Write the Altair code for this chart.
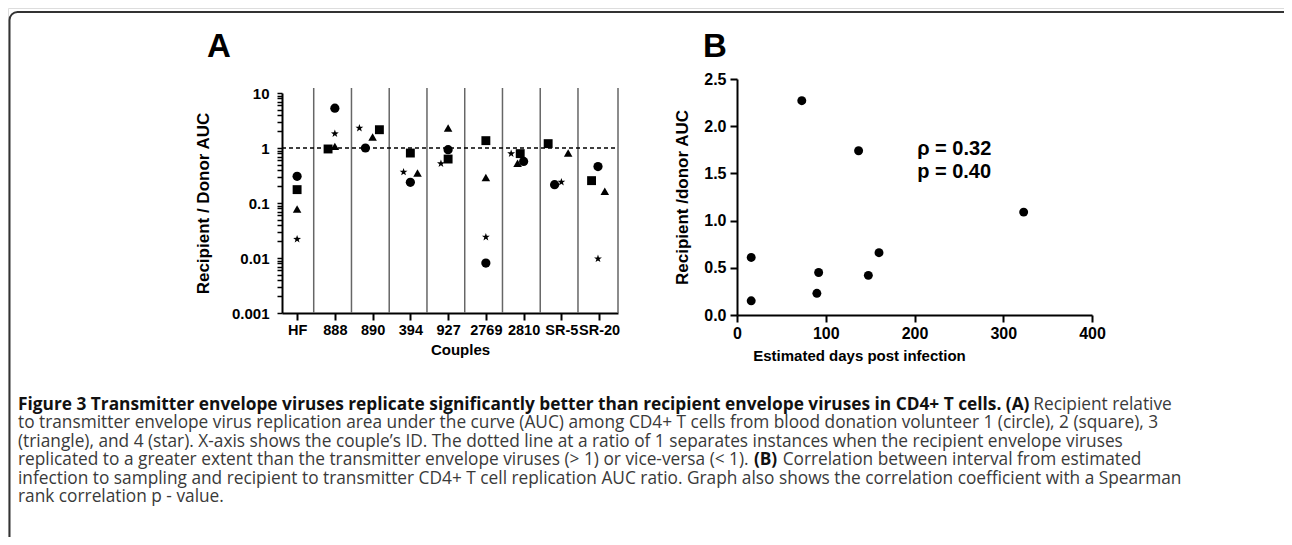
import altair as alt
import pandas as pd

# ---------------- Panel A data ----------------
couples = ["HF", "888", "890", "394", "927", "2769", "2810", "SR-5", "SR-20"]
volunteers = ["1 (circle)", "2 (square)", "3 (triangle)", "4 (star)"]

auc_circle = [0.305, 5.3, 1.0, 0.238, 0.93, 0.0081, 0.57, 0.215, 0.46]
auc_square = [0.175, 0.96, 2.15, 0.81, 0.63, 1.36, 0.79, 1.2, 0.255]
auc_triangle = [0.078, 1.07, 1.58, 0.35, 2.31, 0.29, 0.53, 0.81, 0.163]
auc_star = [0.022, 1.82, 2.3, 0.366, 0.52, 0.024, 0.79, 0.24, 0.0097]

# horizontal spread of the symbols inside a couple (category units)
jit_circle = [0, 0, -0.19, 0, 0, 0, 0, -0.18, -0.03]
jit_square = [0, -0.18, 0.18, 0, 0, 0, -0.09, -0.35, -0.2]
jit_triangle = [0, 0, 0, 0.19, 0, 0, -0.16, 0.18, 0.15]
jit_star = [0, 0, -0.35, -0.18, -0.19, 0, -0.33, 0, -0.03]

# ---------------- Panel B data ----------------
days = [16, 16, 73, 92, 90, 137, 148, 160, 323]
ratio_b = [0.61, 0.15, 2.27, 0.45, 0.23, 1.74, 0.42, 0.66, 1.09]

rho_text = "\u03c1 = 0.32"
p_text = "p = 0.40"

# ---------------- caption ----------------
cap1_bold = ("Figure 3 Transmitter envelope viruses replicate significantly better than "
             "recipient envelope viruses in CD4+ T cells. (A)")
cap1_reg = "Recipient relative"
cap2 = "to transmitter envelope virus replication area under the curve (AUC) among CD4+ T cells from blood donation volunteer 1 (circle), 2 (square), 3"
cap3 = "(triangle), and 4 (star). X-axis shows the couple\u2019s ID. The dotted line at a ratio of 1 separates instances when the recipient envelope viruses"
cap4_reg_a = "replicated to a greater extent than the transmitter envelope viruses (> 1) or vice-versa (< 1)."
cap4_bold = "(B)"
cap4_reg_b = "Correlation between interval from estimated"
cap5 = "infection to sampling and recipient to transmitter CD4+ T cell replication AUC ratio. Graph also shows the correlation coefficient with a Spearman"
cap6 = "rank correlation p - value."

# approximate advance widths (per 1000 em) of Open Sans, used only to place caption pieces
W_REG = dict(zip(" ()+,-./<>=\u2019:", [260, 296, 296, 572, 245, 322, 266, 367, 572, 572, 572, 175, 266]))
W_REG.update({d: 572 for d in "0123456789"})
W_REG.update(dict(zip("ABCDEFGHIJKLMNOPQRSTUVWXYZ",
                      [633, 648, 631, 729, 556, 516, 728, 738, 279, 267, 614, 519, 903, 754, 779,
                       602, 779, 618, 549, 553, 728, 595, 926, 577, 560, 571])))
W_REG.update(dict(zip("abcdefghijklmnopqrstuvwxyz",
                      [556, 613, 476, 613, 561, 339, 548, 614, 253, 253, 525, 253, 930, 614, 604,
                       613, 613, 408, 477, 353, 614, 501, 778, 524, 502, 477])))
W_BOLD = {k: v * 1.082 for k, v in W_REG.items()}
W_BOLD.update({" ": 260, "(": 350, ")": 350, ".": 295})


def text_w(s, size, bold=False):
    tab = W_BOLD if bold else W_REG
    return sum(tab.get(ch, 560) for ch in s) * size / 1000.0


# ---------------- tables ----------------
rows = []
for v, vals, jits in zip(volunteers,
                         [auc_circle, auc_square, auc_triangle, auc_star],
                         [jit_circle, jit_square, jit_triangle, jit_star]):
    for i, (c, val, j) in enumerate(zip(couples, vals, jits)):
        rows.append({"couple": c, "idx": i + j, "volunteer": v, "ratio": val})
dfA = pd.DataFrame(rows)
dfSep = pd.DataFrame({"sep": [i + 0.44 for i in range(len(couples) - 1)] + [len(couples) - 0.5]})
dfB = pd.DataFrame({"days": days, "ratio": ratio_b})
one = pd.DataFrame({"k": [0]})

FONT = "Liberation Sans"
CAP_FONT = "Open Sans"
star_path = ("M0,-1L0.235,-0.324L0.951,-0.309L0.38,0.124L0.588,0.809L0,0.4"
             "L-0.588,0.809L-0.38,0.124L-0.951,-0.309L-0.235,-0.324Z")

# ---------------- Panel A ----------------
xA_scale = alt.Scale(domain=[-0.4, len(couples) - 0.5], range=[274, 610], nice=False, zero=False)
yA_scale = alt.Scale(type="log", domain=[0.001, 10], range=[305, 85], nice=False)

minor_vals = []
for e in [0.001, 0.01, 0.1, 1]:
    for m in range(1, 10):
        minor_vals.append(round(e * m, 6))
minor_vals.append(10)

label_js = "[" + ",".join("'" + c + "'" for c in couples) + "]"

axA_x = alt.Axis(orient="bottom", offset=-224, values=list(range(len(couples))),
                 labelExpr=label_js + "[datum.value]", title="Couples",
                 grid=False, domainColor="black", domainWidth=2, tickColor="black",
                 tickWidth=2, tickSize=7, labelFont=FONT, labelFontWeight="bold",
                 labelFontSize=14.5, labelColor="black", labelPadding=3, labelOverlap=False,
                 labelFlush=False, labelBound=False,
                 titleFont=FONT, titleFontWeight="bold", titleFontSize=15, titleColor="black",
                 titlePadding=6, titleX=452)
axA_y = alt.Axis(orient="left", offset=-274, values=minor_vals,
                 labelExpr="abs(log(datum.value)/LN10 - round(log(datum.value)/LN10)) < 1e-6 ? format(datum.value, '~g') : ''",
                 title="Recipient / Donor AUC", grid=False, domainColor="black", domainWidth=2,
                 tickColor="black", tickWidth=1.5, tickSize=5, labelFont=FONT,
                 labelFontWeight="bold", labelFontSize=15, labelColor="black", labelPadding=8,
                 labelOverlap=False, labelFlush=False, labelBound=False,
                 titleFont=FONT, titleFontWeight="bold",
                 titleFontSize=17, titleColor="black", titleX=-70)

seps = alt.Chart(dfSep).mark_rule(color="#666666", strokeWidth=1.5).encode(
    x=alt.X("sep:Q", scale=xA_scale, axis=axA_x),
    y=alt.value(80), y2=alt.value(305))

dash = alt.Chart(one).mark_rule(color="black", strokeWidth=1.3, strokeDash=[4, 3]).encode(
    y=alt.YDatum(1, scale=yA_scale, axis=axA_y), x=alt.value(274), x2=alt.value(610))

pts = alt.Chart(dfA).mark_point(filled=True, opacity=1, color="black").encode(
    x=alt.X("idx:Q", scale=xA_scale, axis=axA_x),
    y=alt.Y("ratio:Q", scale=yA_scale, axis=axA_y),
    shape=alt.Shape("volunteer:N", legend=None,
                    scale=alt.Scale(domain=volunteers,
                                    range=["circle", "square", "triangle-up", star_path])),
    size=alt.Size("volunteer:N", legend=None,
                  scale=alt.Scale(domain=volunteers, range=[85, 68, 85, 62])),
)

panelA = alt.layer(seps, dash, pts)

# ---------------- Panel B ----------------
xB_scale = alt.Scale(domain=[0, 400], range=[729, 1084], nice=False, zero=False)
yB_scale = alt.Scale(domain=[0, 2.5], range=[307, 71], nice=False, zero=False)

axB_x = alt.Axis(orient="bottom", offset=-222, values=[0, 100, 200, 300, 400],
                 title="Estimated days post infection", grid=False, domainColor="black",
                 domainWidth=2, tickColor="black", tickWidth=2, tickSize=7, labelFont=FONT,
                 labelFontWeight="bold", labelFontSize=16, labelColor="black", labelPadding=3,
                 labelOverlap=False, labelFlush=False, labelBound=False,
                 titleFont=FONT, titleFontWeight="bold", titleFontSize=15, titleColor="black",
                 titlePadding=7, titleX=851)
axB_y = alt.Axis(orient="left", offset=-729, values=[0, 0.5, 1.0, 1.5, 2.0, 2.5], format=".1f",
                 title="Recipient /donor AUC", grid=False, domainColor="black", domainWidth=2,
                 tickColor="black", tickWidth=2, tickSize=7, labelFont=FONT,
                 labelFontWeight="bold", labelFontSize=16, labelColor="black", labelPadding=4,
                 labelOverlap=False, labelFlush=False, labelBound=False,
                 titleFont=FONT, titleFontWeight="bold", titleFontSize=17, titleColor="black",
                 titleX=-46)

ptsB = alt.Chart(dfB).mark_circle(color="black", opacity=1, size=80).encode(
    x=alt.X("days:Q", scale=xB_scale, axis=axB_x),
    y=alt.Y("ratio:Q", scale=yB_scale, axis=axB_y))

rho = alt.Chart(one).mark_text(text=rho_text, font=FONT, fontWeight="bold", fontSize=20,
                               align="left", baseline="middle", color="black").encode(
    x=alt.XDatum(203, scale=xB_scale, axis=axB_x), y=alt.YDatum(1.76, scale=yB_scale, axis=axB_y))
pval = alt.Chart(one).mark_text(text=p_text, font=FONT, fontWeight="bold", fontSize=20,
                                align="left", baseline="middle", color="black").encode(
    x=alt.XDatum(203, scale=xB_scale, axis=axB_x), y=alt.YDatum(1.52, scale=yB_scale, axis=axB_y))

panelB = alt.layer(ptsB, rho, pval)

# ---------------- decorations: frame, panel letters, caption ----------------
frame = alt.Chart(one).mark_rect(filled=False, stroke="#333333", strokeWidth=2,
                                 cornerRadius=8).encode(
    x=alt.value(1.5), x2=alt.value(1300), y=alt.value(4), y2=alt.value(700))

letterA = alt.Chart(one).mark_text(text="A", font=FONT, fontWeight="bold", fontSize=33,
                                   align="left", baseline="alphabetic", color="black").encode(
    x=alt.value(199), y=alt.value(49))
letterB = alt.Chart(one).mark_text(text="B", font=FONT, fontWeight="bold", fontSize=33,
                                   align="left", baseline="alphabetic", color="black").encode(
    x=alt.value(695), y=alt.value(49))

CAP_LEFT = 10
CAP_SIZE = 17.3
LH = 18.5
BASE = 401.5
REG_COLOR = "#3a3a3a"
BOLD_COLOR = "#111111"


def cap_text(txt, x, line, bold=False):
    return alt.Chart(one).mark_text(
        text=txt, font=CAP_FONT, fontSize=CAP_SIZE, fontWeight="bold" if bold else "normal",
        align="left", baseline="alphabetic", color=BOLD_COLOR if bold else REG_COLOR
    ).encode(x=alt.value(x), y=alt.value(BASE + LH * line))


space_w = text_w(" ", CAP_SIZE)
x1b = CAP_LEFT + text_w(cap1_bold, CAP_SIZE, True) + space_w
x4b = CAP_LEFT + text_w(cap4_reg_a, CAP_SIZE) + space_w
x4c = x4b + text_w(cap4_bold, CAP_SIZE, True) + space_w

caption = [
    cap_text(cap1_bold, CAP_LEFT, 0, True),
    cap_text(cap1_reg, x1b, 0),
    cap_text(cap2, CAP_LEFT, 1),
    cap_text(cap3, CAP_LEFT, 2),
    cap_text(cap4_reg_a, CAP_LEFT, 3),
    cap_text(cap4_bold, x4b, 3, True),
    cap_text(cap4_reg_b, x4c, 3),
    cap_text(cap5, CAP_LEFT, 4),
    cap_text(cap6, CAP_LEFT, 5),
]

deco = alt.layer(frame, letterA, letterB, *caption)

chart = alt.layer(panelA, panelB, deco).resolve_scale(
    x="independent", y="independent", shape="independent", size="independent"
).resolve_axis(x="independent", y="independent").properties(
    width=1276, height=529, autosize=alt.AutoSizeParams(type="none"), padding=0
).configure_view(strokeWidth=0).configure(background="white")

chart.save("out.html", embed_options={"renderer": "svg", "actions": False})
